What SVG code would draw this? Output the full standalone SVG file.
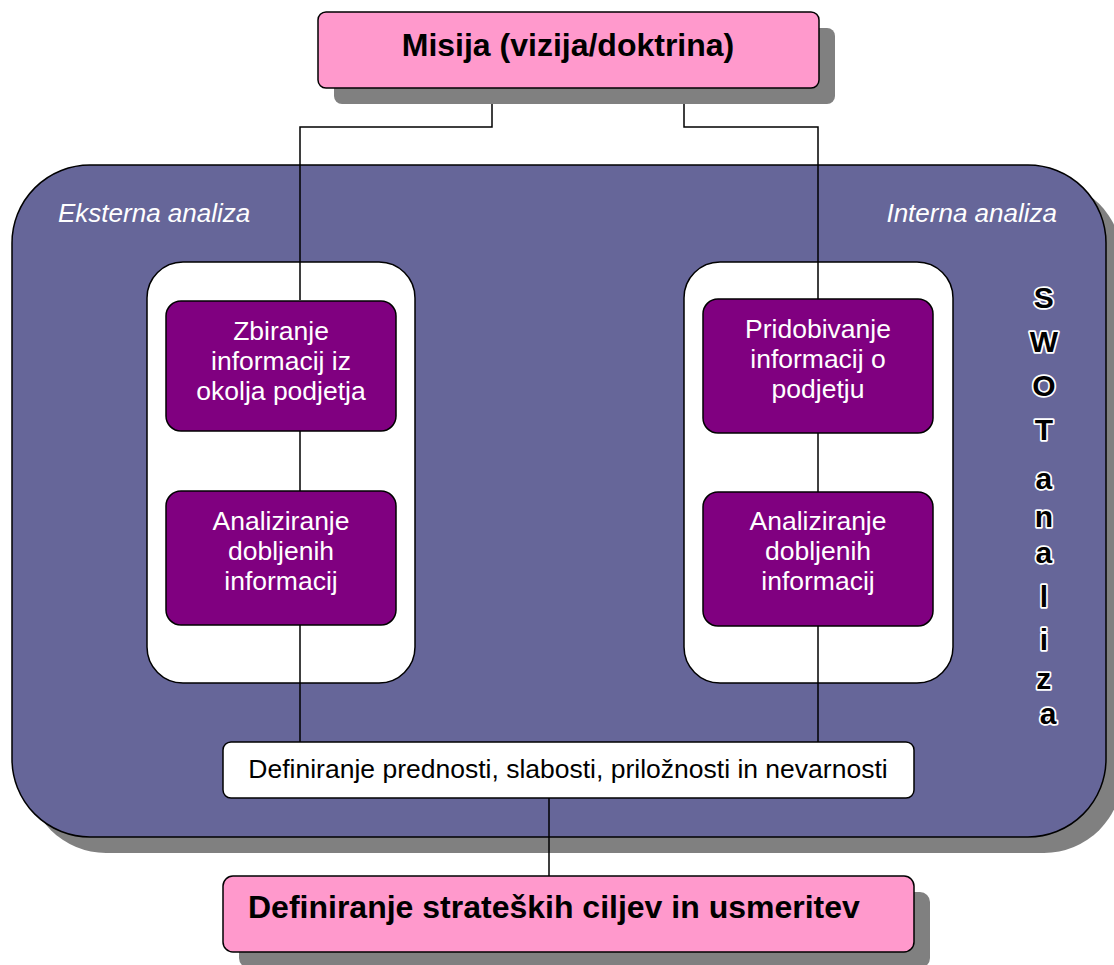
<svg xmlns="http://www.w3.org/2000/svg" width="1114" height="965" viewBox="0 0 1114 965">
<style>
  .shadow { fill: #808080; stroke: none; }
  .pink { fill: #FF99CC; stroke: #000; stroke-width: 1.5; }
  .main { fill: #666699; stroke: #000; stroke-width: 1.5; }
  .panel { fill: #FFFFFF; stroke: #000; stroke-width: 1.5; }
  .proc { fill: #800080; stroke: #000; stroke-width: 1.5; }
  .white { fill: #FFFFFF; stroke: #000; stroke-width: 1.5; }
  .conn { fill: none; stroke: #000; stroke-width: 1.5; }
  .head { font-family: "Liberation Sans", Arial, sans-serif; font-weight: bold; font-size: 32px; fill: #000; }
  .lbl { font-family: "Liberation Sans", Arial, sans-serif; font-size: 26.5px; fill: #FFFFFF; text-anchor: middle; }
  .ital { font-family: "Liberation Sans", Arial, sans-serif; font-style: italic; font-size: 26px; fill: #FFFFFF; }
  .def { font-family: "Liberation Sans", Arial, sans-serif; font-size: 26.5px; fill: #000; text-anchor: middle; }
  .swot { font-family: "Liberation Sans", Arial, sans-serif; font-weight: bold; font-size: 30px; fill: #000; stroke: #FFFFFF; stroke-width: 3.5; paint-order: stroke; stroke-linejoin: round; text-anchor: middle; }
</style>

<g id="swot-frame">
  <rect class="shadow" x="28" y="181" width="1094" height="672" rx="78" ry="78"/>
  <rect class="main" x="12" y="165" width="1094" height="672" rx="78" ry="78"/>
  <text class="ital" x="58" y="222">Eksterna analiza</text>
  <text class="ital" x="1057" y="222" text-anchor="end">Interna analiza</text>
  <text class="swot">
    <tspan x="1048" y="308">S</tspan>
    <tspan x="1048" y="352">W</tspan>
    <tspan x="1048" y="396">O</tspan>
    <tspan x="1048" y="440">T</tspan>
    <tspan x="1048" y="489">a</tspan>
    <tspan x="1048" y="527">n</tspan>
    <tspan x="1048" y="563">a</tspan>
    <tspan x="1048" y="607">l</tspan>
    <tspan x="1048" y="650">i</tspan>
    <tspan x="1048" y="689">z</tspan>
    <tspan x="1048" y="724">a</tspan>
  </text>
</g>

<g id="panel-external">
  <rect class="panel" x="147" y="262" width="268" height="421" rx="36" ry="36"/>
</g>
<g id="panel-internal">
  <rect class="panel" x="684" y="262" width="269" height="421" rx="36" ry="36"/>
</g>

<g id="connectors">
  <polyline class="conn" points="492,88 492,127 300,127 300,300"/>
  <polyline class="conn" points="684,88 684,127 818,127 818,299"/>
  <line class="conn" x1="300" y1="431" x2="300" y2="491"/>
  <line class="conn" x1="818" y1="433" x2="818" y2="492"/>
  <line class="conn" x1="300" y1="625" x2="300" y2="742"/>
  <line class="conn" x1="818" y1="626" x2="818" y2="742"/>
  <line class="conn" x1="549" y1="798" x2="549" y2="876"/>
</g>

<g id="misija">
  <rect class="shadow" x="334" y="28" width="501" height="76" rx="8" ry="8"/>
  <rect class="pink" x="318" y="12" width="501" height="76" rx="8" ry="8"/>
  <text class="head" x="568" y="56" text-anchor="middle">Misija (vizija/doktrina)</text>
</g>

<g id="zbiranje">
  <rect class="proc" x="166" y="301" width="230" height="130" rx="15" ry="15"/>
  <text class="lbl"><tspan x="281" y="340">Zbiranje</tspan><tspan x="281" y="370">informacij iz</tspan><tspan x="281" y="400">okolja podjetja</tspan></text>
</g>

<g id="analiziranje-ext">
  <rect class="proc" x="166" y="491" width="230" height="134" rx="15" ry="15"/>
  <text class="lbl"><tspan x="281" y="530">Analiziranje</tspan><tspan x="281" y="560">dobljenih</tspan><tspan x="281" y="590">informacij</tspan></text>
</g>

<g id="pridobivanje">
  <rect class="proc" x="703" y="299" width="230" height="134" rx="15" ry="15"/>
  <text class="lbl"><tspan x="818" y="338">Pridobivanje</tspan><tspan x="818" y="368">informacij o</tspan><tspan x="818" y="398">podjetju</tspan></text>
</g>

<g id="analiziranje-int">
  <rect class="proc" x="703" y="492" width="230" height="134" rx="15" ry="15"/>
  <text class="lbl"><tspan x="818" y="530">Analiziranje</tspan><tspan x="818" y="560">dobljenih</tspan><tspan x="818" y="590">informacij</tspan></text>
</g>

<g id="definiranje-swot">
  <rect class="white" x="223" y="742" width="691" height="56" rx="8" ry="8"/>
  <text class="def" x="568" y="778">Definiranje prednosti, slabosti, priložnosti in nevarnosti</text>
</g>

<g id="cilji">
  <rect class="shadow" x="239" y="892" width="691" height="76" rx="10" ry="10"/>
  <rect class="pink" x="223" y="876" width="691" height="76" rx="10" ry="10"/>
  <text class="head" x="248" y="918">Definiranje strateških ciljev in usmeritev</text>
</g>
</svg>
